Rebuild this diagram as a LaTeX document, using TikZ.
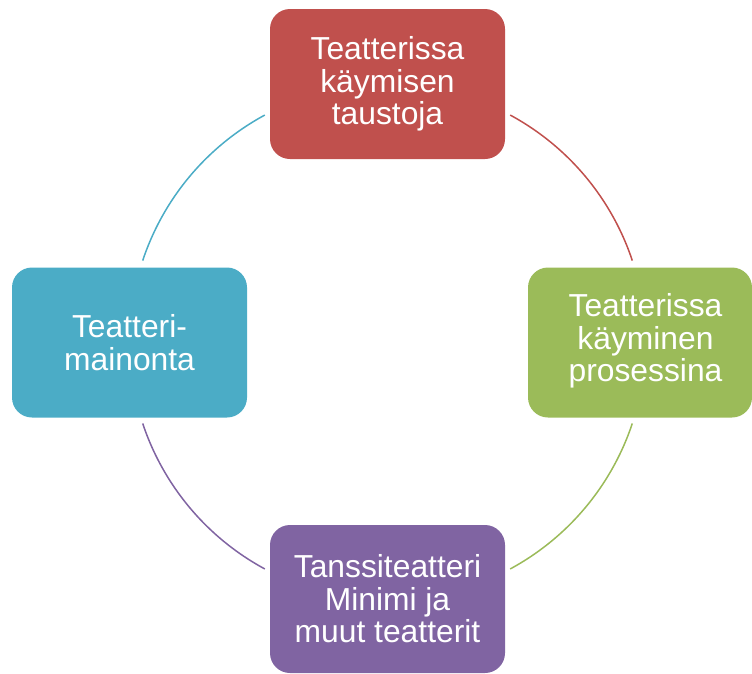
\documentclass[tikz,border=0pt]{standalone}
\usepackage{fontspec}
\setmainfont{Liberation Sans}
\definecolor{cred}{HTML}{C0504D}
\definecolor{cgreen}{HTML}{9BBB59}
\definecolor{cpurple}{HTML}{8064A2}
\definecolor{cteal}{HTML}{4BACC6}
\tikzset{
  cyclebox/.style={draw=none, rounded corners=20pt, minimum width=235pt, minimum height=150pt,
    text=white, align=center, inner sep=0pt,
    font=\fontsize{31.8}{32.5}\selectfont},
  cyclearc/.style={line width=1.5pt}
}
\begin{document}
\begin{tikzpicture}[x=1pt,y=1pt]
\useasboundingbox (0,0) rectangle (752,-673);
\coordinate (c) at (387.5,-342);
\node[cyclebox, fill=cred] (top) at (387.5,-84) {Teatterissa\\käymisen\\taustoja};
\node[cyclebox, fill=cgreen, minimum width=224pt] (right) at (640,-342.5) {\hspace*{11pt}\begin{tabular}{@{}c@{}}Teatterissa\\käyminen\\prosessina\end{tabular}};
\node[cyclebox, fill=cpurple, minimum height=148pt] (bottom) at (387.5,-599) {Tanssiteatteri\\Minimi ja\\muut teatterit};
\node[cyclebox, fill=cteal] (left) at (129.5,-342.5) {Teatteri-\\mainonta};
\draw[cyclearc, cred] (c) ++(61.6:258) arc[start angle=61.6, end angle=18.4, radius=258];
\draw[cyclearc, cgreen] (c) ++(-18.4:258) arc[start angle=-18.4, end angle=-61.6, radius=258];
\draw[cyclearc, cpurple] (c) ++(-118.4:258) arc[start angle=-118.4, end angle=-161.6, radius=258];
\draw[cyclearc, cteal] (c) ++(161.6:258) arc[start angle=161.6, end angle=118.4, radius=258];
\end{tikzpicture}
\end{document}
